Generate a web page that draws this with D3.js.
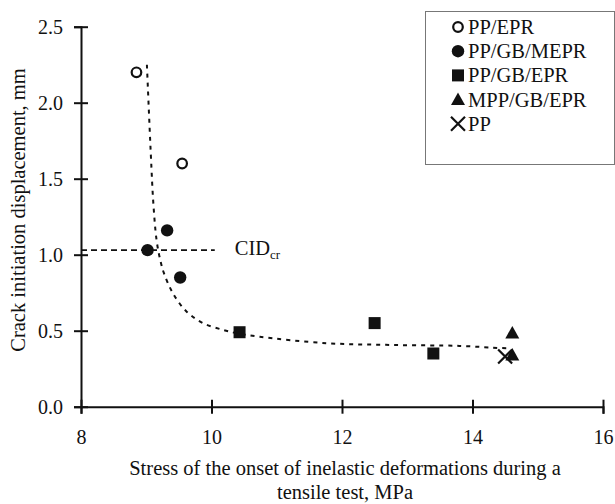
<!DOCTYPE html>
<html>
<head>
<meta charset="utf-8">
<script src="https://cdn.jsdelivr.net/npm/d3@7"></script>
<style>
  body { margin: 0; background: #fff; }
</style>
</head>
<body>
<svg id="chart" width="615" height="504"></svg>
<script>
// Series (x = stress, MPa; y = crack initiation displacement, mm)
const ppEpr = [[8.85, 2.2], [9.55, 1.6]];
const ppGbMepr = [[9.32, 1.16], [9.02, 1.03], [9.52, 0.85]];
const ppGbEpr = [[10.43, 0.49], [12.5, 0.55], [13.4, 0.35]];
const mppGbEpr = [[14.61, 0.485], [14.61, 0.34]];
const pp = [[14.5, 0.33]];

// Dashed trend curve
const trend = [
  [9.01, 2.25], [9.07, 1.66], [9.11, 1.33], [9.16, 1.09], [9.22, 0.955],
  [9.27, 0.88], [9.41, 0.745], [9.62, 0.625], [9.87, 0.55], [10.18, 0.505],
  [10.43, 0.48], [10.74, 0.46], [11.76, 0.418], [12.78, 0.406], [13.8, 0.4],
  [14.42, 0.386], [14.52, 0.385]
];

// Critical CID level
const cidLevel = 1.03;
const cidEnd = 10.05;

const xTicks = [8, 10, 12, 14, 16];
const yTicks = [0, 0.5, 1.0, 1.5, 2.0, 2.5];
const legendItems = ['PP/EPR', 'PP/GB/MEPR', 'PP/GB/EPR', 'MPP/GB/EPR', 'PP'];

const serif = '"Liberation Serif", "Times New Roman", serif';
const svg = d3.select('#chart');

const xScale = d3.scaleLinear().domain([8, 16]).range([81, 603]);
const yScale = d3.scaleLinear().domain([0, 2.5]).range([406.7, 26.7]);

// Axes
const xAxis = svg.append('g')
  .attr('transform', `translate(0, ${yScale(0)})`)
  .call(d3.axisBottom(xScale).tickValues(xTicks).tickSize(7).tickPadding(24).tickFormat(d3.format('d')));

const yAxis = svg.append('g')
  .attr('transform', `translate(${xScale(8)}, 0)`)
  .call(d3.axisLeft(yScale).tickValues(yTicks).tickSize(7).tickPadding(11).tickFormat(d3.format('.1f')));

[xAxis, yAxis].forEach(ax => {
  ax.attr('font-family', null).attr('font-size', null);
  ax.select('.domain').attr('stroke', '#111').attr('stroke-width', 2);
  ax.selectAll('.tick text')
    .style('font-family', serif)
    .style('font-size', '20px')
    .attr('fill', '#111');
});
xAxis.selectAll('.tick line').attr('y1', -7).attr('y2', 7).attr('stroke', '#111').attr('stroke-width', 2);
yAxis.selectAll('.tick line').attr('x1', -7).attr('x2', 7).attr('stroke', '#111').attr('stroke-width', 2);
xAxis.selectAll('.tick text').attr('dy', '0.3em');

// Axis titles
function addText(x, y, str, size) {
  return svg.append('text')
    .attr('x', x).attr('y', y)
    .style('font-family', serif)
    .style('font-size', size + 'px')
    .attr('fill', '#111')
    .text(str);
}
addText(345, 475, 'Stress of the onset of inelastic deformations during a', 20.5).attr('text-anchor', 'middle');
addText(345, 499, 'tensile test, MPa', 20.5).attr('text-anchor', 'middle');
addText(0, 0, 'Crack initiation displacement, mm', 20.5)
  .attr('text-anchor', 'middle')
  .attr('transform', `translate(25, 210) rotate(-90)`);

// CID critical line and label
svg.append('line')
  .attr('x1', xScale(8)).attr('x2', xScale(cidEnd))
  .attr('y1', yScale(cidLevel)).attr('y2', yScale(cidLevel))
  .attr('stroke', '#111').attr('stroke-width', 1.6)
  .attr('stroke-dasharray', '6,4');

const cid = addText(xScale(cidEnd) + 20, yScale(cidLevel) + 5, '', 20.5);
cid.append('tspan').text('CID');
cid.append('tspan').style('font-size', '13px').attr('dy', 4).text('cr');

// Trend curve
const line = d3.line()
  .x(d => xScale(d[0]))
  .y(d => yScale(d[1]))
  .curve(d3.curveCatmullRom);

svg.append('path')
  .datum(trend)
  .attr('d', line)
  .attr('fill', 'none')
  .attr('stroke', '#111')
  .attr('stroke-width', 2)
  .attr('stroke-dasharray', '4,5');

// Markers
function drawMarker(g, type, x, y) {
  if (type === 0) {
    g.append('circle').attr('cx', x).attr('cy', y).attr('r', 4.8)
      .attr('fill', '#fff').attr('stroke', '#111').attr('stroke-width', 2.2);
  } else if (type === 1) {
    g.append('circle').attr('cx', x).attr('cy', y).attr('r', 6.2).attr('fill', '#111');
  } else if (type === 2) {
    g.append('rect').attr('x', x - 6).attr('y', y - 6).attr('width', 12).attr('height', 12).attr('fill', '#111');
  } else if (type === 3) {
    g.append('path').attr('d', `M${x},${y - 7} L${x + 7},${y + 5.5} L${x - 7},${y + 5.5} Z`).attr('fill', '#111');
  } else {
    g.append('path').attr('d', `M${x - 7},${y - 7} L${x + 7},${y + 7} M${x + 7},${y - 7} L${x - 7},${y + 7}`)
      .attr('stroke', '#111').attr('stroke-width', 2.2).attr('fill', 'none');
  }
}

const points = svg.append('g');
[ppEpr, ppGbMepr, ppGbEpr, mppGbEpr, pp].forEach((series, i) => {
  series.forEach(d => drawMarker(points, i, xScale(d[0]), yScale(d[1])));
});

// Legend
const legend = svg.append('g');
legend.append('rect')
  .attr('x', 425.5).attr('y', 11.5)
  .attr('width', 189).attr('height', 153)
  .attr('fill', '#fff')
  .attr('stroke', '#777').attr('stroke-width', 1);

legendItems.forEach((name, i) => {
  const cy = 27 + i * 24.2;
  drawMarker(legend, i, 458, cy);
  legend.append('text')
    .attr('x', 468).attr('y', cy + 7)
    .style('font-family', serif)
    .style('font-size', '20.5px')
    .attr('fill', '#111')
    .text(name);
});
</script>
</body>
</html>
